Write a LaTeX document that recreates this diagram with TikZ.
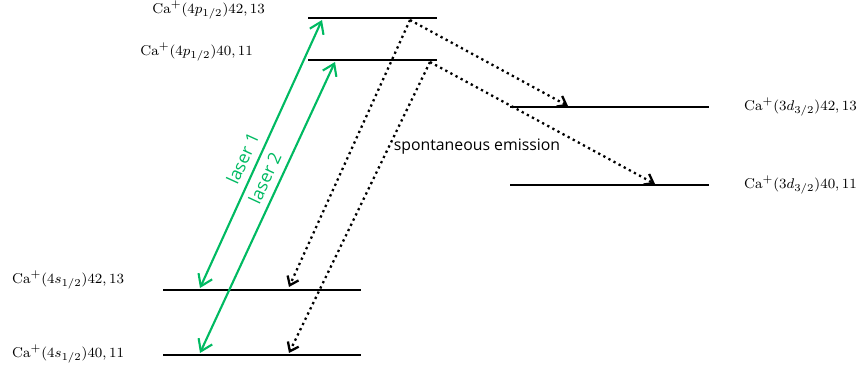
\documentclass[tikz,border=0pt]{standalone}
\usepackage{amsmath,amssymb}
\usepackage{fontspec}
\setsansfont{Open Sans}
\usepackage{tikz}
\usetikzlibrary{positioning,arrows.meta,calc}
\definecolor{lasergreen}{RGB}{0,186,98}

\begin{document}
\begin{tikzpicture}[
      lvl/.style={draw=black,line width=1.6pt},
      lbl/.style={inner sep=1pt,font=\fontsize{8.1}{10}\selectfont},
      laser/.style={draw=lasergreen,line width=1.2pt,
        {Straight Barb[length=2.2mm,width=3mm]}-{Straight Barb[length=2.2mm,width=3mm]}},
      decay/.style={draw=black,line width=1.3pt,dotted,
        -{Straight Barb[length=1.6mm,width=2.4mm]}},
      note/.style={font=\sffamily\small,inner sep=1pt}
    ]
    \useasboundingbox (0,0) rectangle (17.16,-7.40);
    % energy levels
    \coordinate (P2L) at (6.16,-0.36); \coordinate (P2R) at (8.74,-0.36);
    \coordinate (P1L) at (6.16,-1.20); \coordinate (P1R) at (8.74,-1.20);
    \coordinate (D2L) at (10.20,-2.14); \coordinate (D2R) at (14.18,-2.14);
    \coordinate (D1L) at (10.20,-3.70); \coordinate (D1R) at (14.18,-3.70);
    \coordinate (S2L) at (3.26,-5.80); \coordinate (S2R) at (7.22,-5.80);
    \coordinate (S1L) at (3.26,-7.10); \coordinate (S1R) at (7.22,-7.10);
    \draw[lvl] (P2L) -- (P2R);
    \draw[lvl] (P1L) -- (P1R);
    \draw[lvl] (D2L) -- (D2R);
    \draw[lvl] (D1L) -- (D1R);
    \draw[lvl] (S2L) -- (S2R);
    \draw[lvl] (S1L) -- (S1R);
    \node[lbl,anchor=east] (P2) at (5.34,-0.20) {$\mathrm{Ca}^{+}(4p_{1/2})42,13$};
    \node[lbl,anchor=east] (P1) at (5.10,-1.04) {$\mathrm{Ca}^{+}(4p_{1/2})40,11$};
    \node[lbl,anchor=west] (D2) at (14.84,-2.14) {$\mathrm{Ca}^{+}(3d_{3/2})42,13$};
    \node[lbl,anchor=west] (D1) at (14.84,-3.70) {$\mathrm{Ca}^{+}(3d_{3/2})40,11$};
    \node[lbl,anchor=west] (S2) at (0.20,-5.60) {$\mathrm{Ca}^{+}(4s_{1/2})42,13$};
    \node[lbl,anchor=west] (S1) at (0.20,-7.08) {$\mathrm{Ca}^{+}(4s_{1/2})40,11$};
    % arrow ends on the levels
    \coordinate (aS2) at (4.00,-5.76); \coordinate (aP2) at (6.44,-0.40);
    \coordinate (aS1) at (4.00,-7.06); \coordinate (aP1) at (6.70,-1.24);
    \coordinate (eP2) at (8.20,-0.40); \coordinate (eP1) at (8.60,-1.24);
    \coordinate (eS2) at (5.78,-5.74); \coordinate (eS1) at (5.78,-7.06);
    \coordinate (eD2) at (11.36,-2.12); \coordinate (eD1) at (13.10,-3.68);
    \draw[laser] (aS2) -- node[pos=0.46,sloped,above=3pt,note,text=lasergreen,font=\sffamily\normalsize] {laser 1} (aP2);
    \draw[laser] (aS1) -- node[pos=0.58,sloped,above=3pt,note,text=lasergreen,font=\sffamily\normalsize] {laser 2} (aP1);
    \draw[decay] (eP2) -- (eS2);
    \draw[decay] (eP1) -- (eS1);
    \draw[decay] (eP2) -- (eD2);
    \draw[decay] (eP1) -- (eD1);
    \node[note] (SE) at (9.54,-2.94) {spontaneous emission};
  \end{tikzpicture}
\end{document}
